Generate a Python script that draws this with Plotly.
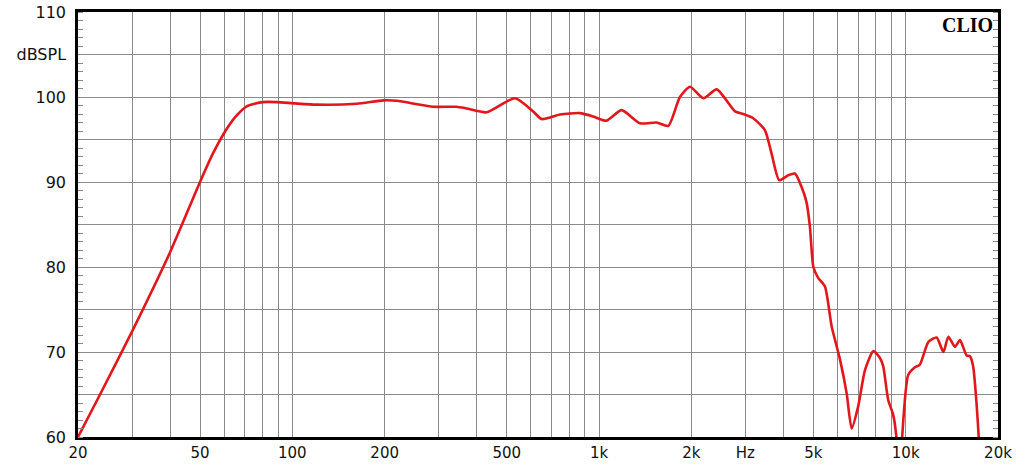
import plotly.graph_objects as go
import numpy as np

# Frequency response
freq_hz = [20, 23.6, 30, 40, 50, 55, 60, 65, 71, 80, 89, 102, 120, 162, 198, 219,
           288, 343, 370, 430, 532, 610, 650, 746, 867, 958, 1056, 1185, 1361,
           1541, 1682, 1836, 1981, 2189, 2420, 2777, 2953, 3183, 3475, 3650, 3870,
           4142, 4355, 4578, 4750, 4873, 5000, 5188, 5455, 5737, 6108, 6422, 6665,
           7000, 7370, 7845, 8245, 8450, 8770, 9106, 9380, 9500, 9697, 10190,
           10720, 11120, 11860, 12620, 13270, 13780, 14480, 15030, 15800, 16200,
           16600, 17020, 17320, 17600]
spl_db = [60.0, 65.0, 72.4, 81.8, 90.0, 93.3, 95.8, 97.6, 98.9, 99.4, 99.4, 99.25,
          99.1, 99.2, 99.6, 99.55, 98.85, 98.85, 98.65, 98.2, 99.85, 98.3, 97.4,
          97.95, 98.1, 97.7, 97.2, 98.45, 96.9, 97.0, 96.6, 100.0, 101.2, 99.85,
          100.9, 98.3, 98.0, 97.5, 96.1, 93.4, 90.2, 90.8, 91.0, 89.4, 87.6, 84.7,
          80.0, 78.7, 77.7, 73.0, 69.1, 65.1, 61.0, 63.6, 67.9, 70.1, 69.3, 68.3,
          64.35, 62.6, 59.0, 54.0, 59.0, 67.3, 68.2, 68.5, 71.2, 71.7, 70.0, 71.8,
          70.6, 71.4, 69.6, 69.5, 68.3, 64.0, 59.8, 55.0]

# Axis grid / labels
x_grid_hz = [20, 30, 40, 50, 60, 70, 80, 90, 100, 200, 300, 400, 500, 600, 700,
             800, 900, 1000, 2000, 3000, 4000, 5000, 6000, 7000, 8000, 9000,
             10000, 20000]
x_tick_text = ["20", "", "", "50", "", "", "", "", "100", "200", "", "", "500",
               "", "", "", "", "1k", "2k", "Hz", "", "5k", "", "", "", "", "10k",
               "20k"]
y_grid_db = [60, 65, 70, 75, 80, 85, 90, 95, 100, 105, 110]
y_tick_text = ["60", "", "70", "", "80", "", "90", "", "100", "dBSPL", "110"]
y_minor_db = list(range(60, 111))

FONT = "DejaVu Sans"
GRID = "#8a8a8a"

fig = go.Figure()

fig.add_trace(go.Scatter(
    x=freq_hz, y=spl_db, mode="lines",
    line=dict(color="#e3161b", width=2.6, shape="spline", smoothing=0.6),
    showlegend=False, hoverinfo="skip",
))
# helper trace so the right-hand tick axis is drawn
fig.add_trace(go.Scatter(x=[], y=[], yaxis="y2", showlegend=False))

minor_ticks = dict(tickmode="array", tickvals=y_minor_db, ticks="inside",
                   ticklen=5, tickwidth=1, tickcolor=GRID, showgrid=False)

fig.update_layout(
    width=1024, height=464,
    paper_bgcolor="#ffffff", plot_bgcolor="#ffffff",
    margin=dict(l=78, r=26, t=12, b=27, autoexpand=False),
    font=dict(family=FONT, size=16, color="#111111"),
    xaxis=dict(
        type="log", range=[np.log10(20), np.log10(20000)],
        tickmode="array", tickvals=x_grid_hz, ticktext=x_tick_text,
        tickfont=dict(size=15),
        showgrid=True, gridcolor=GRID, gridwidth=1,
        showline=True, linecolor="#000000", linewidth=2.5, mirror=True,
        ticks="", ticklabelstandoff=0, zeroline=False, automargin=False,
    ),
    yaxis=dict(
        range=[60, 110], tickmode="array", tickvals=y_grid_db, ticktext=y_tick_text,
        showgrid=True, gridcolor=GRID, gridwidth=1,
        showline=True, linecolor="#000000", linewidth=2.5, mirror=True,
        ticks="", ticklabelstandoff=6, zeroline=False, automargin=False,
        minor=minor_ticks,
    ),
    yaxis2=dict(
        range=[60, 110], overlaying="y", side="right",
        showgrid=False, showticklabels=False, ticks="", zeroline=False,
        showline=False, automargin=False, minor=minor_ticks,
    ),
    annotations=[dict(
        text="<b>CLIO</b>", xref="paper", yref="paper", x=0.997, y=1.0,
        xanchor="right", yanchor="top", showarrow=False,
        font=dict(family="Liberation Serif", size=20, color="#000000"),
    )],
)

# page body margin would shift the fixed-size figure
fig.write_html("out.html", config={"displayModeBar": False},
               post_script="document.body.style.margin='0';")
